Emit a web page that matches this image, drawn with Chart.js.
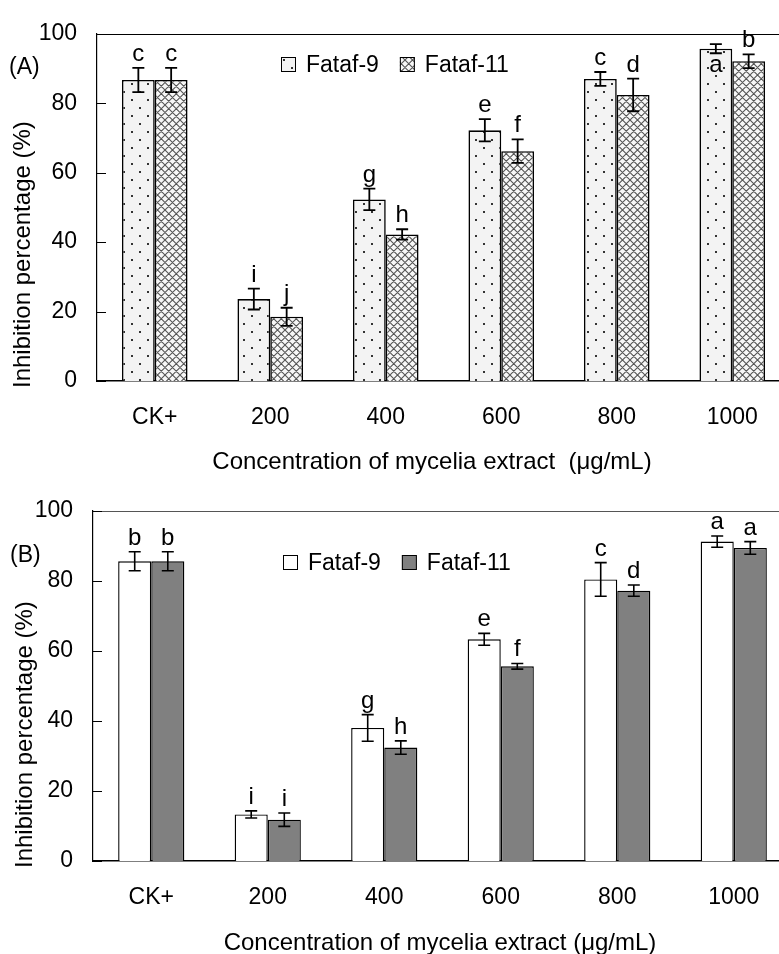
<!DOCTYPE html>
<html>
<head>
<meta charset="utf-8">
<script src="https://cdn.jsdelivr.net/npm/chart.js@4.4.1/dist/chart.umd.min.js"></script>
<style>
    html, body { margin: 0; padding: 0; background: #fff; overflow: hidden; }
    #wrap { position: relative; width: 779px; height: 954px; overflow: hidden; }
    canvas { position: absolute; left: 0; }
    #chartA { top: 0; }
    #chartB { top: 477px; }
</style>
</head>
<body>
<div id="wrap">
    <canvas id="chartA" width="795" height="477"></canvas>
    <canvas id="chartB" width="795" height="477"></canvas>
</div>
<script>
const categories = ['CK+', '200', '400', '600', '800', '1000'];
const seriesNames = ['Fataf-9', 'Fataf-11'];
const yTicks = [0, 20, 40, 60, 80, 100];

// Panel (A)
const meanA9 = [86.7, 23.6, 52.3, 72.2, 87.0, 95.7];
const errA9 = [3.5, 3.0, 3.1, 3.2, 2.0, 1.3];
const lettersA9 = ['c', 'i', 'g', 'e', 'c', 'a'];
const meanA11 = [86.7, 18.5, 42.2, 66.2, 82.4, 92.1];
const errA11 = [3.5, 2.6, 1.5, 3.4, 4.7, 2.0];
const lettersA11 = ['c', 'j', 'h', 'f', 'd', 'b'];

// Panel (B)
const meanB9 = [85.6, 13.3, 38.0, 63.3, 80.4, 91.2];
const errB9 = [2.7, 1.0, 3.8, 1.7, 4.8, 1.6];
const lettersB9 = ['b', 'i', 'g', 'e', 'c', 'a'];
const meanB11 = [85.6, 11.8, 32.4, 55.6, 77.2, 89.4];
const errB11 = [2.7, 1.9, 1.9, 0.8, 1.6, 1.8];
const lettersB11 = ['b', 'i', 'h', 'f', 'd', 'a'];

const FONT = "'Liberation Sans', Arial, Helvetica, sans-serif";
Chart.defaults.font.family = FONT;
Chart.defaults.color = '#000';

// motifs de remplissage pour le panneau A
function makeDots() {
    const c = document.createElement('canvas');
    c.width = 16; c.height = 16;
    const g = c.getContext('2d');
    g.fillStyle = '#f3f3f3';
    g.fillRect(0, 0, 16, 16);
    g.fillStyle = '#333';
    g.fillRect(3, 3, 2, 2);
    g.fillRect(11, 11, 2, 2);
    return g.createPattern(c, 'repeat');
}

function makeHatch() {
    const c = document.createElement('canvas');
    c.width = 15; c.height = 15;
    const g = c.getContext('2d');
    g.fillStyle = '#f7f7f7';
    g.fillRect(0, 0, 15, 15);
    g.strokeStyle = '#555';
    g.lineWidth = 1.1;
    g.beginPath();
    for (let k = -2; k <= 2; k++) {
        const o = k * 7.5;
        g.moveTo(-2, -2 + o); g.lineTo(17, 17 + o);
        g.moveTo(17, -2 + o); g.lineTo(-2, 17 + o);
    }
    g.stroke();
    return g.createPattern(c, 'repeat');
}

const dots = makeDots();
const hatch = makeHatch();

// barres d'erreur + lettres
const annotate = {
    id: 'annotate',
    afterDatasetsDraw(chart, args, opts) {
        const { ctx, chartArea } = chart;
        const y = chart.scales.y;
        ctx.save();
        opts.series.forEach((s, di) => {
            const meta = chart.getDatasetMeta(di);
            meta.data.forEach((bar, i) => {
                const v = s.mean[i], e = s.err[i];
                const yt = y.getPixelForValue(v + e);
                const yb = y.getPixelForValue(v - e);
                const x = bar.x;
                ctx.strokeStyle = '#000';
                ctx.lineWidth = opts.lineWidth;
                ctx.beginPath();
                ctx.moveTo(x, yt); ctx.lineTo(x, yb);
                ctx.moveTo(x - 6, yt); ctx.lineTo(x + 6, yt);
                ctx.moveTo(x - 6, yb); ctx.lineTo(x + 6, yb);
                ctx.stroke();

                ctx.font = '24px ' + FONT;
                ctx.fillStyle = '#000';
                ctx.textAlign = 'center';
                ctx.textBaseline = 'alphabetic';
                const m = ctx.measureText(s.letters[i]);
                let by = yt - 7;
                if (by - m.actualBoundingBoxAscent < chartArea.top - 4) {
                    by = yb + 6 + m.actualBoundingBoxAscent;
                }
                ctx.fillText(s.letters[i], x, by);
            });
        });
        ctx.restore();
    }
};

// cadre, graduations internes, titres, légende
const decor = {
    id: 'decor',
    afterDraw(chart, args, o) {
        const { ctx, chartArea } = chart;
        const y = chart.scales.y;
        ctx.save();
        // ligne du haut
        ctx.strokeStyle = o.frameColor;
        ctx.lineWidth = 1.2;
        ctx.beginPath();
        ctx.moveTo(chartArea.left, Math.round(chartArea.top) + 0.5);
        ctx.lineTo(chartArea.right, Math.round(chartArea.top) + 0.5);
        ctx.stroke();
        // graduations vers l'intérieur
        ctx.strokeStyle = '#000';
        ctx.lineWidth = 1;
        y.ticks.forEach(t => {
            const py = Math.round(y.getPixelForValue(t.value)) + 0.5;
            ctx.beginPath();
            ctx.moveTo(chartArea.left, py);
            ctx.lineTo(chartArea.left + 9, py);
            ctx.stroke();
        });

        ctx.fillStyle = '#000';
        ctx.font = '24px ' + FONT;
        // titre axe Y
        ctx.save();
        ctx.translate(o.yTitleX, chartArea.bottom + 7);
        ctx.rotate(-Math.PI / 2);
        ctx.textAlign = 'left';
        ctx.textBaseline = 'middle';
        ctx.fillText('Inhibition percentage (%)', 0, 0);
        ctx.restore();
        // titre axe X
        ctx.textAlign = 'center';
        ctx.textBaseline = 'alphabetic';
        ctx.fillText(o.xTitle, o.xTitleX, o.xTitleY);

        // étiquette du panneau
        ctx.font = '23px ' + FONT;
        ctx.textAlign = 'left';
        ctx.textBaseline = 'middle';
        ctx.fillText(o.panel, o.panelX, o.panelY);

        // légende
        let lx = o.legendX;
        const base = o.legendY;
        ctx.textBaseline = 'alphabetic';
        seriesNames.forEach((name, i) => {
            ctx.fillStyle = o.boxFills[i];
            ctx.fillRect(lx, base - 15, 15, 15);
            ctx.strokeStyle = '#000';
            ctx.lineWidth = 1;
            ctx.strokeRect(lx + 0.5, base - 14.5, 14, 14);
            ctx.fillStyle = '#000';
            ctx.fillText(name, lx + 25, base);
            lx += 25 + ctx.measureText(name).width + 21;
        });
        ctx.restore();
    }
};

function buildChart(id, cfg) {
    const ctx = document.getElementById(id).getContext('2d');
    return new Chart(ctx, {
        type: 'bar',
        data: {
            labels: categories,
            datasets: [
                {
                    label: seriesNames[0],
                    data: cfg.series[0].mean,
                    backgroundColor: cfg.fills[0],
                    borderColor: '#000',
                    borderWidth: cfg.barBorder,
                    categoryPercentage: 0.568,
                    barPercentage: 1.0
                },
                {
                    label: seriesNames[1],
                    data: cfg.series[1].mean,
                    backgroundColor: cfg.fills[1],
                    borderColor: '#000',
                    borderWidth: cfg.barBorder,
                    categoryPercentage: 0.568,
                    barPercentage: 1.0
                }
            ]
        },
        options: {
            responsive: false,
            animation: false,
            devicePixelRatio: 1,
            layout: { padding: { top: cfg.padTop, right: cfg.padRight, left: 0, bottom: 0 } },
            plugins: {
                legend: { display: false },
                tooltip: { enabled: false },
                annotate: { series: cfg.series, lineWidth: cfg.errWidth },
                decor: cfg.decor
            },
            scales: {
                x: {
                    grid: { display: false, drawTicks: false },
                    border: { display: true, color: '#000', width: 1.6 },
                    ticks: { font: { size: 23 }, color: '#000', padding: 23, maxRotation: 0 },
                    afterFit: s => { s.height = cfg.xHeight; }
                },
                y: {
                    min: 0,
                    max: 100,
                    afterBuildTicks: s => { s.ticks = yTicks.map(v => ({ value: v })); },
                    grid: { display: false, drawTicks: false },
                    border: { display: true, color: '#000', width: 1.2 },
                    ticks: { font: { size: 23 }, color: '#000', padding: 20 },
                    afterFit: s => { s.width = cfg.yWidth; }
                }
            }
        },
        plugins: [annotate, decor]
    });
}

buildChart('chartA', {
    series: [
        { mean: meanA9, err: errA9, letters: lettersA9 },
        { mean: meanA11, err: errA11, letters: lettersA11 }
    ],
    fills: [dots, hatch],
    barBorder: 1.6,
    errWidth: 1.8,
    padTop: 23,
    padRight: 5,
    xHeight: 96,
    yWidth: 97,
    decor: {
        frameColor: '#000',
        yTitleX: 23,
        xTitle: 'Concentration of mycelia extract  (\u03bcg/mL)',
        xTitleX: 432,
        xTitleY: 469,
        panel: '(A)',
        panelX: 9,
        panelY: 68,
        legendX: 281,
        legendY: 72,
        boxFills: [dots, hatch]
    }
});

buildChart('chartB', {
    series: [
        { mean: meanB9, err: errB9, letters: lettersB9 },
        { mean: meanB11, err: errB11, letters: lettersB11 }
    ],
    fills: ['#ffffff', '#808080'],
    barBorder: 1.4,
    errWidth: 1.6,
    padTop: 30,
    padRight: 3,
    xHeight: 93,
    yWidth: 93,
    decor: {
        frameColor: '#555',
        yTitleX: 25,
        xTitle: 'Concentration of mycelia extract (\u03bcg/mL)',
        xTitleX: 440,
        xTitleY: 473,
        panel: '(B)',
        panelX: 10,
        panelY: 78.5,
        legendX: 283,
        legendY: 93,
        boxFills: ['#ffffff', '#808080']
    }
});
</script>
</body>
</html>
